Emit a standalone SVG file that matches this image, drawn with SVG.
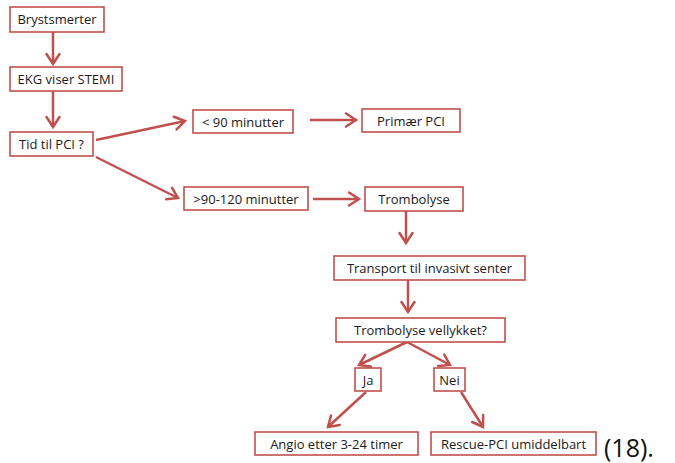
<svg xmlns="http://www.w3.org/2000/svg" width="675" height="463" viewBox="0 0 675 463">
<defs>
<marker id="arr" markerUnits="userSpaceOnUse" markerWidth="16" markerHeight="16" viewBox="-12 -8 14 16" refX="0" refY="0" orient="auto">
<path d="M-10,-6.5 L0,0 L-10,6.5" fill="none" stroke="#c0504d" stroke-width="2.5" stroke-linecap="round" stroke-linejoin="miter"/>
</marker>
</defs>
<style>
.box{fill:#fff;stroke:#c0504d;stroke-width:1.6}
.t{font-family:"Open Sans","Liberation Sans",sans-serif;font-size:13px;fill:#1a1a1a;text-anchor:middle}
.c{stroke:#c0504d;stroke-width:2.5;fill:none;marker-end:url(#arr)}
</style>
<rect width="675" height="463" fill="#fff"/>
<g id="connectors">
<line class="c" x1="53" y1="32" x2="53" y2="64"/>
<line class="c" x1="53" y1="91" x2="53" y2="127"/>
<line class="c" x1="96" y1="140" x2="185" y2="121"/>
<line class="c" x1="96" y1="157" x2="178" y2="198"/>
<line class="c" x1="310" y1="120" x2="356" y2="120"/>
<line class="c" x1="313" y1="199" x2="359" y2="199"/>
<line class="c" x1="406" y1="211" x2="406" y2="243"/>
<line class="c" x1="408" y1="280" x2="408" y2="312"/>
<line class="c" x1="407" y1="342" x2="359" y2="365"/>
<line class="c" x1="407" y1="342" x2="450" y2="365"/>
<line class="c" x1="366" y1="392" x2="328" y2="427"/>
<line class="c" x1="461" y1="392" x2="483" y2="427"/>
</g>
<g id="n1"><rect class="box" x="10" y="7" width="94" height="25"/><text class="t" x="57" y="24">Brystsmerter</text></g>
<g id="n2"><rect class="box" x="10" y="67" width="112" height="24"/><text class="t" x="66" y="84">EKG viser STEMI</text></g>
<g id="n3"><rect class="box" x="10" y="132" width="83" height="24"/><text class="t" x="51.5" y="149">Tid til PCI ?</text></g>
<g id="n4"><rect class="box" x="193" y="110" width="100" height="23"/><text class="t" x="243" y="126.5">&lt; 90 minutter</text></g>
<g id="n5"><rect class="box" x="362" y="109" width="98" height="23"/><text class="t" x="411" y="125.5">Primær PCI</text></g>
<g id="n6"><rect class="box" x="184" y="187" width="124" height="23"/><text class="t" x="246" y="203.5">&gt;90-120 minutter</text></g>
<g id="n7"><rect class="box" x="365" y="187" width="98" height="24"/><text class="t" x="414" y="204">Trombolyse</text></g>
<g id="n8"><rect class="box" x="334" y="256" width="191" height="24"/><text class="t" x="429.5" y="273">Transport til invasivt senter</text></g>
<g id="n9"><rect class="box" x="336" y="318" width="169" height="24"/><text class="t" x="420.5" y="335">Trombolyse vellykket?</text></g>
<g id="n10"><rect class="box" x="355" y="368" width="26" height="23"/><text class="t" x="368" y="384.5">Ja</text></g>
<g id="n11"><rect class="box" x="434" y="368" width="31" height="23"/><text class="t" x="449.5" y="384.5">Nei</text></g>
<g id="n12"><rect class="box" x="255" y="432" width="163" height="23"/><text class="t" x="336.5" y="448.5">Angio etter 3-24 timer</text></g>
<g id="n13"><rect class="box" x="431" y="432" width="165" height="23"/><text class="t" x="513.5" y="448.5">Rescue-PCI umiddelbart</text></g>
<text x="604" y="457" font-family="Open Sans, Liberation Sans, sans-serif" font-size="25" fill="#111">(18).</text>
</svg>
